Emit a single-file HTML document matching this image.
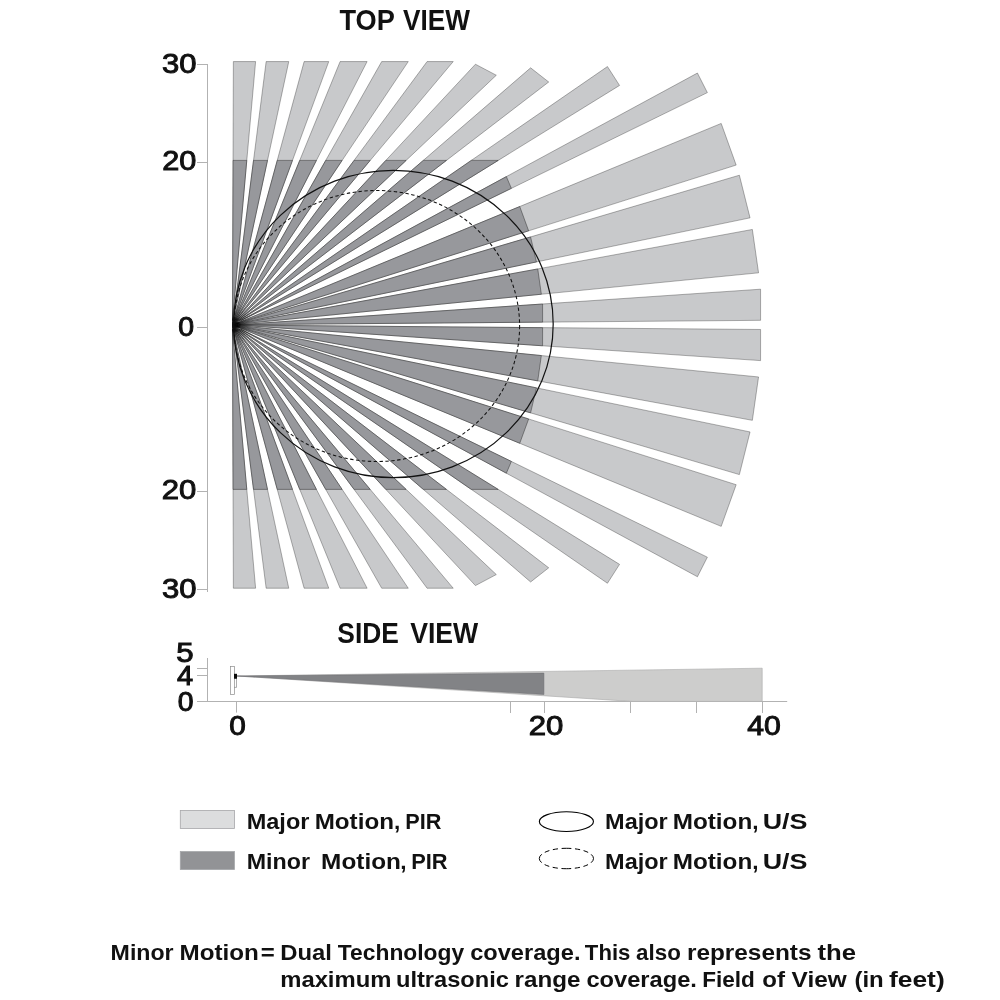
<!DOCTYPE html>
<html><head><meta charset="utf-8"><title>Coverage</title>
<style>html,body{margin:0;padding:0;background:#fff;}body{width:1000px;height:1000px;position:relative;overflow:hidden;font-family:"Liberation Sans",sans-serif;}</style></head>
<body>
<svg width="1000" height="1000" viewBox="0 0 1000 1000" style="position:absolute;left:0;top:0">
<rect width="1000" height="1000" fill="#fff"/>
<g stroke="#b2b2b2" stroke-width="1" fill="none">
<path d="M207.5 64 V592 M197 64.5 H208 M197 162.5 H208 M197 327.5 H208 M197 491.5 H208 M197 589.5 H208"/>
<path d="M207.5 658 V701.5 M197 668.5 H207.5 M197 675.5 H207.5 M197 701.5 H787.2 M236.5 701.5 V712.6 M510.5 701.5 V713 M544.5 701.5 V713 M630.5 701.5 V713 M696.5 701.5 V713 M762.5 701.5 V713"/>
</g>
<g fill="#c8c9cb" stroke="#222" stroke-width="0.35" stroke-linejoin="miter">
<polygon points="232.49,320.81 233.37,61.57 255.61,61.57"/>
<polygon points="232.49,328.99 233.37,588.22 255.61,588.22"/>
<polygon points="233.00,320.83 266.15,61.57 288.78,61.57"/>
<polygon points="233.00,328.97 266.15,588.22 288.78,588.22"/>
<polygon points="233.54,321.02 304.13,61.57 328.75,61.57"/>
<polygon points="233.54,328.78 304.13,588.22 328.75,588.22"/>
<polygon points="234.01,321.19 340.12,61.57 367.11,61.57"/>
<polygon points="234.01,328.61 340.12,588.22 367.11,588.22"/>
<polygon points="234.78,320.88 381.70,61.57 408.27,61.57"/>
<polygon points="234.78,328.92 381.70,588.22 408.27,588.22"/>
<polygon points="235.78,320.48 427.09,61.57 453.22,61.57"/>
<polygon points="235.78,329.32 427.09,588.22 453.22,588.22"/>
<polygon points="236.17,321.00 475.44,64.22 496.30,75.24"/>
<polygon points="236.17,328.80 475.44,585.58 496.30,574.56"/>
<polygon points="237.03,321.06 530.61,67.83 548.71,82.00"/>
<polygon points="237.03,328.74 530.61,581.97 548.71,567.80"/>
<polygon points="238.16,321.08 607.45,66.55 619.56,85.44"/>
<polygon points="238.16,328.72 607.45,583.25 619.56,564.36"/>
<polygon points="239.68,321.10 697.43,73.04 707.36,92.62"/>
<polygon points="239.68,328.70 697.43,576.76 707.36,557.18"/>
<polygon points="236.20,323.48 721.20,123.43 736.17,165.09"/>
<polygon points="236.20,326.32 721.20,526.37 736.17,484.71"/>
<polygon points="236.35,323.89 739.37,175.22 750.04,217.87"/>
<polygon points="236.35,325.91 739.37,474.58 750.04,431.93"/>
<polygon points="236.45,324.32 752.35,229.46 758.55,272.84"/>
<polygon points="236.45,325.48 752.35,420.34 758.55,376.96"/>
<polygon points="238.18,324.68 760.57,289.19 760.58,320.33"/>
<polygon points="238.18,325.12 760.57,360.61 760.58,329.47"/>
</g>
<g fill="#97989c" stroke="#111" stroke-width="0.4" stroke-linejoin="miter">
<polygon points="232.52,320.23 233.06,160.40 246.77,160.40"/>
<polygon points="232.52,329.57 233.06,489.40 246.77,489.40"/>
<polygon points="233.10,320.25 253.54,160.40 267.49,160.40"/>
<polygon points="233.10,329.55 253.54,489.40 267.49,489.40"/>
<polygon points="233.71,320.47 277.27,160.40 292.46,160.40"/>
<polygon points="233.71,329.33 277.27,489.40 292.46,489.40"/>
<polygon points="234.25,320.66 299.75,160.40 316.42,160.40"/>
<polygon points="234.25,329.14 299.75,489.40 316.42,489.40"/>
<polygon points="235.13,320.31 325.74,160.40 342.12,160.40"/>
<polygon points="235.13,329.49 325.74,489.40 342.12,489.40"/>
<polygon points="236.28,319.85 354.10,160.40 370.19,160.40"/>
<polygon points="236.28,329.95 354.10,489.40 370.19,489.40"/>
<polygon points="236.73,320.44 385.85,160.40 406.13,160.40"/>
<polygon points="236.73,329.36 385.85,489.40 406.13,489.40"/>
<polygon points="237.70,320.51 423.32,160.40 446.45,160.40"/>
<polygon points="237.70,329.29 423.32,489.40 446.45,489.40"/>
<polygon points="238.99,320.53 471.32,160.40 498.18,160.40"/>
<polygon points="238.99,329.27 471.32,489.40 498.18,489.40"/>
<polygon points="240.73,320.56 506.36,176.61 511.36,188.35"/>
<polygon points="240.73,329.24 506.36,473.19 511.36,461.45"/>
<polygon points="236.75,323.28 519.75,206.55 528.64,230.81"/>
<polygon points="236.75,326.52 519.75,443.25 528.64,418.99"/>
<polygon points="236.93,323.74 530.58,236.95 536.46,261.92"/>
<polygon points="236.93,326.06 530.58,412.85 536.46,387.88"/>
<polygon points="237.04,324.23 537.76,268.94 541.35,294.23"/>
<polygon points="237.04,325.57 537.76,380.86 541.35,355.57"/>
<polygon points="239.02,324.64 542.59,304.02 542.60,322.12"/>
<polygon points="239.02,325.16 542.59,345.78 542.60,327.68"/>
</g>
<defs><radialGradient id="bl"><stop offset="0" stop-color="#000" stop-opacity="1"/><stop offset="0.45" stop-color="#000" stop-opacity="0.85"/><stop offset="1" stop-color="#000" stop-opacity="0"/></radialGradient><radialGradient id="bl2"><stop offset="0" stop-color="#000" stop-opacity="0.5"/><stop offset="0.5" stop-color="#000" stop-opacity="0.22"/><stop offset="1" stop-color="#000" stop-opacity="0"/></radialGradient><clipPath id="cl"><rect x="232.1" y="295" width="40" height="60"/></clipPath></defs>
<ellipse cx="233.5" cy="324.9" rx="20" ry="22" fill="url(#bl2)" clip-path="url(#cl)"/>
<ellipse cx="234.6" cy="324.9" rx="6.5" ry="8.5" fill="url(#bl)" clip-path="url(#cl)"/>
<ellipse cx="393.4" cy="324.0" rx="159.8" ry="153.7" fill="none" stroke="#111" stroke-width="1.2"/>
<ellipse cx="376.8" cy="326.0" rx="142.8" ry="135.5" fill="none" stroke="#111" stroke-width="1.05" stroke-dasharray="3.4 2.5"/>
<polygon points="237,676 762.2,668.2 762.2,701.4 631.7,701.4" fill="#cdcdcc" stroke="#a9a9a9" stroke-width="0.6"/>
<polygon points="237,676 543.9,673.1 543.9,694.5" fill="#828386" stroke="#6a6b6e" stroke-width="0.5"/>
<rect x="230.5" y="666.5" width="4" height="28" fill="#fff" stroke="#8c8c8c" stroke-width="0.7"/>
<path d="M234.5 678.3 H236.5 V687.4 H234.3" fill="none" stroke="#777" stroke-width="0.6"/>
<rect x="234.0" y="673.8" width="3.0" height="4.9" fill="#0a0a0a"/>
<rect x="180.3" y="810.5" width="54.1" height="17.9" fill="#dcddde" stroke="#a6a6a8" stroke-width="0.8"/>
<rect x="180.3" y="851.6" width="54.1" height="17.9" fill="#929396" stroke="#a4a5a8" stroke-width="0.8"/>
<ellipse cx="566.4" cy="821.6" rx="27.05" ry="9.85" fill="none" stroke="#000" stroke-width="1.1"/>
<path d="M566.40 848.30 A27.1 10.2 0 0 1 593.50 858.50" fill="none" stroke="#000" stroke-width="1.0" stroke-dasharray="5.00 3.606"/>
<path d="M593.50 858.50 A27.1 10.2 0 0 1 566.40 868.70" fill="none" stroke="#000" stroke-width="1.0" stroke-dasharray="5.00 3.606"/>
<path d="M566.40 868.70 A27.1 10.2 0 0 1 539.30 858.50" fill="none" stroke="#000" stroke-width="1.0" stroke-dasharray="5.00 3.606"/>
<path d="M539.30 858.50 A27.1 10.2 0 0 1 566.40 848.30" fill="none" stroke="#000" stroke-width="1.0" stroke-dasharray="5.00 3.606"/>
<g font-family="'Liberation Sans', sans-serif" fill="#111" style="will-change:transform">
<text x="339.53" y="30.2" font-size="29.4" font-weight="bold" text-anchor="start" textLength="55.33" lengthAdjust="spacingAndGlyphs" xml:space="preserve">TOP</text>
<text x="402.99" y="30.2" font-size="29.4" font-weight="bold" text-anchor="start" textLength="66.89" lengthAdjust="spacingAndGlyphs" xml:space="preserve">VIEW</text>
<text x="337.32" y="643.2" font-size="29.4" font-weight="bold" text-anchor="start" textLength="61.5" lengthAdjust="spacingAndGlyphs" xml:space="preserve">SIDE</text>
<text x="410.16" y="643.2" font-size="29.4" font-weight="bold" text-anchor="start" textLength="68.1" lengthAdjust="spacingAndGlyphs" xml:space="preserve">VIEW</text>
<text x="161.99" y="73.3" font-size="28.2" font-weight="normal" text-anchor="start" textLength="34.52" lengthAdjust="spacingAndGlyphs" stroke="#111" stroke-width="1.0" xml:space="preserve">30</text>
<text x="162.32" y="170.1" font-size="28.2" font-weight="normal" text-anchor="start" textLength="34.12" lengthAdjust="spacingAndGlyphs" stroke="#111" stroke-width="1.0" xml:space="preserve">20</text>
<text x="178.15" y="335.8" font-size="28.2" font-weight="normal" text-anchor="start" textLength="15.84" lengthAdjust="spacingAndGlyphs" stroke="#111" stroke-width="1.0" xml:space="preserve">0</text>
<text x="161.65" y="499.0" font-size="28.2" font-weight="normal" text-anchor="start" textLength="34.58" lengthAdjust="spacingAndGlyphs" stroke="#111" stroke-width="1.0" xml:space="preserve">20</text>
<text x="161.99" y="597.7" font-size="28.2" font-weight="normal" text-anchor="start" textLength="34.52" lengthAdjust="spacingAndGlyphs" stroke="#111" stroke-width="1.0" xml:space="preserve">30</text>
<text x="176.37" y="661.5" font-size="28.2" font-weight="normal" text-anchor="start" textLength="17.37" lengthAdjust="spacingAndGlyphs" stroke="#111" stroke-width="1.0" xml:space="preserve">5</text>
<text x="177.03" y="684.6" font-size="28.2" font-weight="normal" text-anchor="start" textLength="16.15" lengthAdjust="spacingAndGlyphs" stroke="#111" stroke-width="1.0" xml:space="preserve">4</text>
<text x="177.78" y="711.2" font-size="28.2" font-weight="normal" text-anchor="start" textLength="15.8" lengthAdjust="spacingAndGlyphs" stroke="#111" stroke-width="1.0" xml:space="preserve">0</text>
<text x="229.36" y="735.2" font-size="28.2" font-weight="normal" text-anchor="start" textLength="16.56" lengthAdjust="spacingAndGlyphs" stroke="#111" stroke-width="1.0" xml:space="preserve">0</text>
<text x="528.66" y="735.2" font-size="28.2" font-weight="normal" text-anchor="start" textLength="34.63" lengthAdjust="spacingAndGlyphs" stroke="#111" stroke-width="1.0" xml:space="preserve">20</text>
<text x="747.25" y="735.2" font-size="28.2" font-weight="normal" text-anchor="start" textLength="33.55" lengthAdjust="spacingAndGlyphs" stroke="#111" stroke-width="1.0" xml:space="preserve">40</text>
<text x="246.73" y="828.5" font-size="22.6" font-weight="bold" text-anchor="start" textLength="62.68" lengthAdjust="spacingAndGlyphs" xml:space="preserve">Major</text>
<text x="314.69" y="828.5" font-size="22.6" font-weight="bold" text-anchor="start" textLength="79.24" lengthAdjust="spacingAndGlyphs" xml:space="preserve">Motion</text>
<text x="393.98" y="828.5" font-size="22.6" font-weight="bold" text-anchor="start" xml:space="preserve">,</text>
<text x="405.22" y="828.5" font-size="22.6" font-weight="bold" text-anchor="start" textLength="36.11" lengthAdjust="spacingAndGlyphs" xml:space="preserve">PIR</text>
<text x="246.77" y="869.1" font-size="22.6" font-weight="bold" text-anchor="start" textLength="63.23" lengthAdjust="spacingAndGlyphs" xml:space="preserve">Minor</text>
<text x="321.14" y="869.1" font-size="22.6" font-weight="bold" text-anchor="start" textLength="79.77" lengthAdjust="spacingAndGlyphs" xml:space="preserve">Motion</text>
<text x="400.28" y="869.1" font-size="22.6" font-weight="bold" text-anchor="start" xml:space="preserve">,</text>
<text x="411.21" y="869.1" font-size="22.6" font-weight="bold" text-anchor="start" textLength="36.38" lengthAdjust="spacingAndGlyphs" xml:space="preserve">PIR</text>
<text x="605.1" y="828.5" font-size="22.6" font-weight="bold" text-anchor="start" textLength="62.63" lengthAdjust="spacingAndGlyphs" xml:space="preserve">Major</text>
<text x="672.73" y="828.5" font-size="22.6" font-weight="bold" text-anchor="start" textLength="79.49" lengthAdjust="spacingAndGlyphs" xml:space="preserve">Motion</text>
<text x="752.18" y="828.5" font-size="22.6" font-weight="bold" text-anchor="start" xml:space="preserve">,</text>
<text x="762.68" y="828.5" font-size="22.6" font-weight="bold" text-anchor="start" textLength="44.8" lengthAdjust="spacingAndGlyphs" xml:space="preserve">U/S</text>
<text x="605.1" y="869.2" font-size="22.6" font-weight="bold" text-anchor="start" textLength="62.63" lengthAdjust="spacingAndGlyphs" xml:space="preserve">Major</text>
<text x="672.73" y="869.2" font-size="22.6" font-weight="bold" text-anchor="start" textLength="79.49" lengthAdjust="spacingAndGlyphs" xml:space="preserve">Motion</text>
<text x="752.18" y="869.2" font-size="22.6" font-weight="bold" text-anchor="start" xml:space="preserve">,</text>
<text x="762.68" y="869.2" font-size="22.6" font-weight="bold" text-anchor="start" textLength="44.8" lengthAdjust="spacingAndGlyphs" xml:space="preserve">U/S</text>
<text x="110.6" y="959.5" font-size="22" font-weight="bold" text-anchor="start" textLength="63.02" lengthAdjust="spacingAndGlyphs" xml:space="preserve">Minor</text>
<text x="179.57" y="959.5" font-size="22" font-weight="bold" text-anchor="start" textLength="79.35" lengthAdjust="spacingAndGlyphs" xml:space="preserve">Motion</text>
<text x="260.89" y="959.5" font-size="22" font-weight="bold" text-anchor="start" textLength="13.99" lengthAdjust="spacingAndGlyphs" xml:space="preserve">=</text>
<text x="280.25" y="959.5" font-size="22" font-weight="bold" text-anchor="start" textLength="51.63" lengthAdjust="spacingAndGlyphs" xml:space="preserve">Dual</text>
<text x="337.87" y="959.5" font-size="22" font-weight="bold" text-anchor="start" textLength="126.26" lengthAdjust="spacingAndGlyphs" xml:space="preserve">Technology</text>
<text x="470.19" y="959.5" font-size="22" font-weight="bold" text-anchor="start" textLength="110.26" lengthAdjust="spacingAndGlyphs" xml:space="preserve">coverage.</text>
<text x="584.88" y="959.5" font-size="22" font-weight="bold" text-anchor="start" textLength="45.5" lengthAdjust="spacingAndGlyphs" xml:space="preserve">This</text>
<text x="636.12" y="959.5" font-size="22" font-weight="bold" text-anchor="start" textLength="44.76" lengthAdjust="spacingAndGlyphs" xml:space="preserve">also</text>
<text x="686.91" y="959.5" font-size="22" font-weight="bold" text-anchor="start" textLength="124.57" lengthAdjust="spacingAndGlyphs" xml:space="preserve">represents</text>
<text x="817.52" y="959.5" font-size="22" font-weight="bold" text-anchor="start" textLength="38.53" lengthAdjust="spacingAndGlyphs" xml:space="preserve">the</text>
<text x="280.21" y="986.6" font-size="22" font-weight="bold" text-anchor="start" textLength="111.21" lengthAdjust="spacingAndGlyphs" xml:space="preserve">maximum</text>
<text x="395.97" y="986.6" font-size="22" font-weight="bold" text-anchor="start" textLength="112.98" lengthAdjust="spacingAndGlyphs" xml:space="preserve">ultrasonic</text>
<text x="514.54" y="986.6" font-size="22" font-weight="bold" text-anchor="start" textLength="65.85" lengthAdjust="spacingAndGlyphs" xml:space="preserve">range</text>
<text x="586.42" y="986.6" font-size="22" font-weight="bold" text-anchor="start" textLength="110.46" lengthAdjust="spacingAndGlyphs" xml:space="preserve">coverage.</text>
<text x="702.16" y="986.6" font-size="22" font-weight="bold" text-anchor="start" textLength="52.67" lengthAdjust="spacingAndGlyphs" xml:space="preserve">Field</text>
<text x="762.3" y="986.6" font-size="22" font-weight="bold" text-anchor="start" textLength="22.7" lengthAdjust="spacingAndGlyphs" xml:space="preserve">of</text>
<text x="791.63" y="986.6" font-size="22" font-weight="bold" text-anchor="start" textLength="55.07" lengthAdjust="spacingAndGlyphs" xml:space="preserve">View</text>
<text x="854.47" y="986.6" font-size="22" font-weight="bold" text-anchor="start" textLength="29.29" lengthAdjust="spacingAndGlyphs" xml:space="preserve">(in</text>
<text x="889.0" y="986.6" font-size="22" font-weight="bold" text-anchor="start" textLength="55.66" lengthAdjust="spacingAndGlyphs" xml:space="preserve">feet)</text>
</g>
</svg>
</body></html>
